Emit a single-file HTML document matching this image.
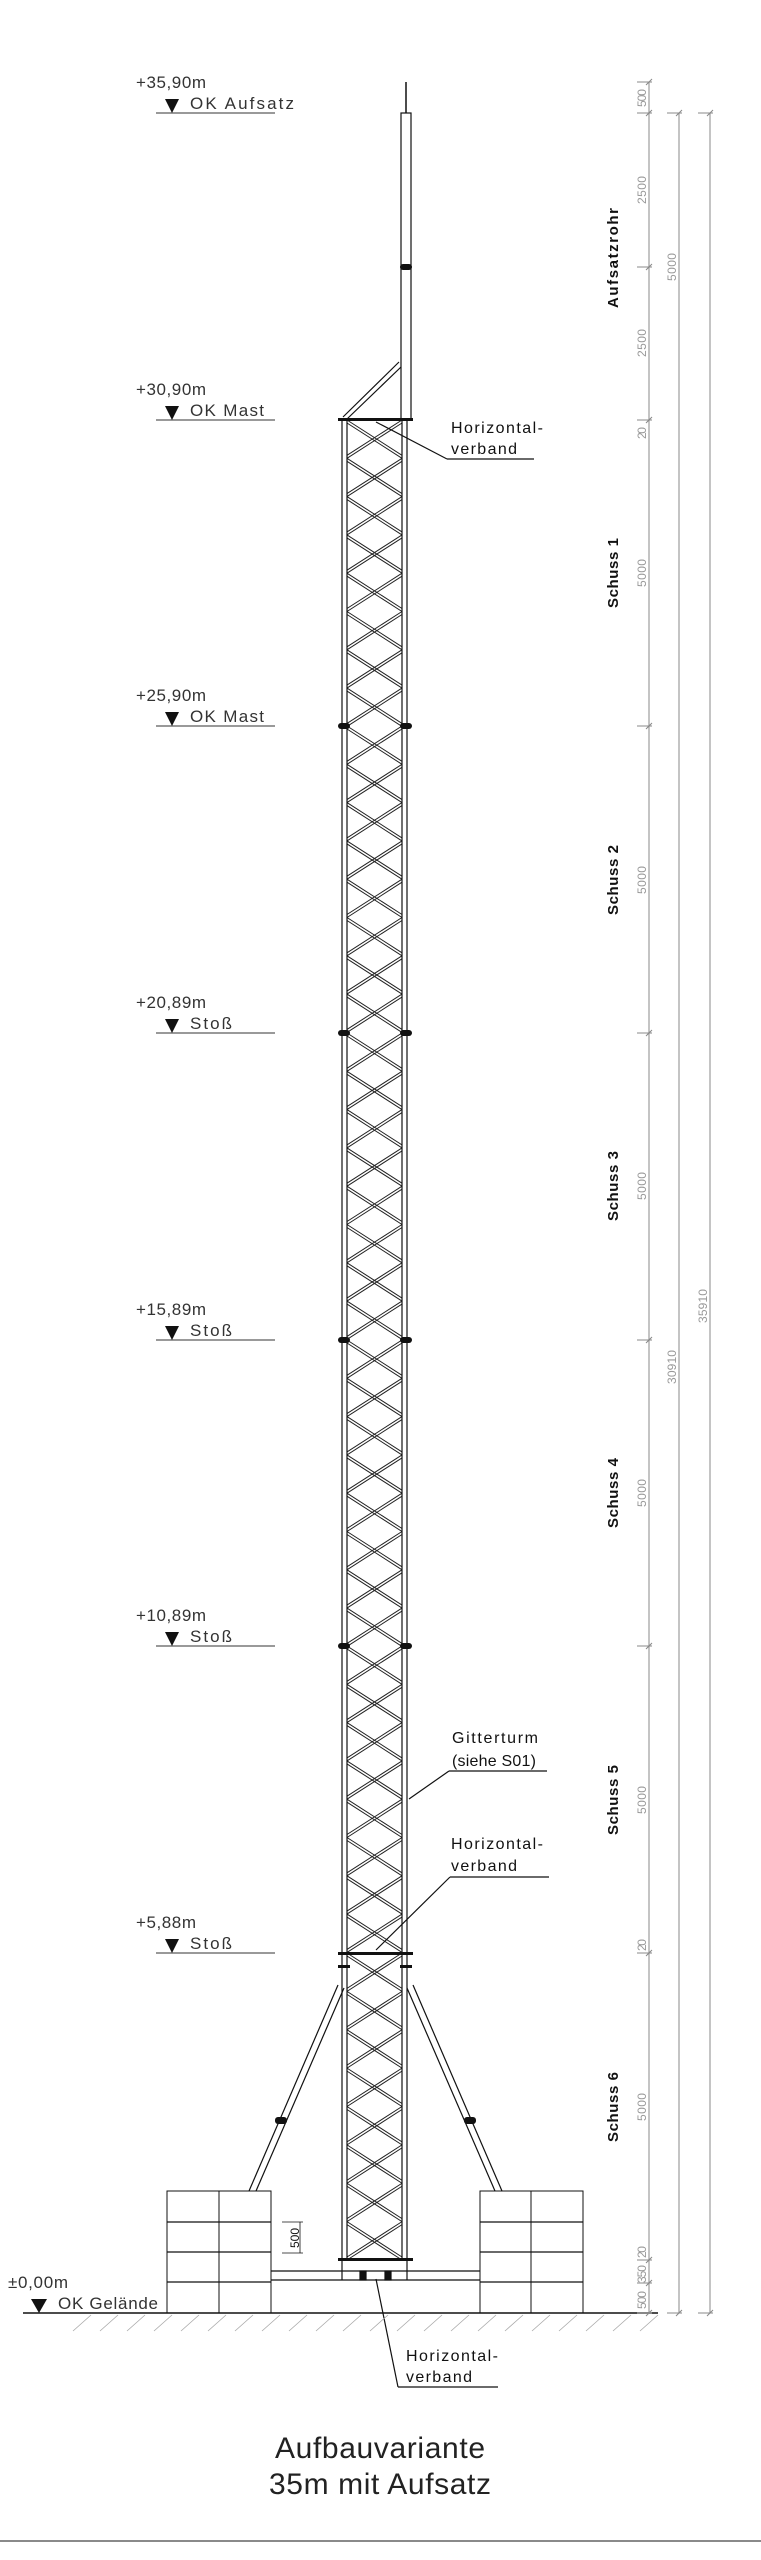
<!DOCTYPE html>
<html><head><meta charset="utf-8"><style>
html,body{margin:0;padding:0;background:#fff}
svg{display:block}
text{font-family:"Liberation Sans Narrow","Liberation Sans",sans-serif}
</style></head><body>
<svg id="s" width="761" height="2560" viewBox="0 0 761 2560" xmlns="http://www.w3.org/2000/svg">
<g id="lat" stroke="#222" stroke-width="1" fill="none"></g>
<g stroke="#111" fill="none" stroke-width="1.2">
<line x1="342" y1="420" x2="342" y2="2280"/><line x1="347" y1="420" x2="347" y2="2260"/>
<line x1="402" y1="420" x2="402" y2="2260"/><line x1="407" y1="420" x2="407" y2="2280"/>
<rect x="401" y="113" width="10" height="307"/>
<line x1="406" y1="82" x2="406" y2="113" stroke-width="1.5"/>
<line x1="343" y1="417" x2="399" y2="362"/><line x1="347" y1="419" x2="401" y2="367"/>
<rect x="338" y="418" width="75" height="3" fill="#111" stroke="none"/>
<line x1="338" y1="1985" x2="249" y2="2191"/><line x1="344" y1="1988" x2="256" y2="2191"/>
<line x1="413" y1="1985" x2="502" y2="2191"/><line x1="407" y1="1988" x2="495" y2="2191"/>
<rect x="338" y="1952" width="75" height="3" fill="#111" stroke="none"/>
<rect x="338" y="2258" width="75" height="3" fill="#111" stroke="none"/>
<line x1="271" y1="2271" x2="480" y2="2271"/><line x1="271" y1="2280" x2="480" y2="2280"/>
<rect x="360" y="2271" width="6" height="9" fill="#111"/><rect x="385" y="2271" width="6" height="9" fill="#111"/>
<rect x="167" y="2191" width="104" height="122" stroke-width="1"/>
<line x1="219" y1="2191" x2="219" y2="2313" stroke-width="1"/>
<line x1="167" y1="2222" x2="271" y2="2222"/><line x1="167" y1="2252" x2="271" y2="2252"/><line x1="167" y1="2282" x2="271" y2="2282"/>
<rect x="480" y="2191" width="103" height="122" stroke-width="1"/>
<line x1="531" y1="2191" x2="531" y2="2313" stroke-width="1"/>
<line x1="480" y1="2222" x2="583" y2="2222"/><line x1="480" y1="2252" x2="583" y2="2252"/><line x1="480" y1="2282" x2="583" y2="2282"/>
<line x1="23" y1="2313" x2="658" y2="2313" stroke-width="1.5"/>
<line x1="376" y1="422" x2="447" y2="459"/><line x1="447" y1="459" x2="534" y2="459"/>
<line x1="409" y1="1799" x2="449" y2="1771"/><line x1="449" y1="1771" x2="547" y2="1771"/>
<line x1="376" y1="1950" x2="450" y2="1877"/><line x1="450" y1="1877" x2="549" y2="1877"/>
<line x1="376" y1="2279" x2="398" y2="2387"/><line x1="398" y1="2387" x2="498" y2="2387"/>
<line x1="300" y1="2222" x2="300" y2="2253" stroke-width="0.8"/>
<line x1="282" y1="2222" x2="303" y2="2222" stroke-width="0.8"/>
<line x1="282" y1="2253" x2="303" y2="2253" stroke-width="0.8"/>
</g>
<g id="dots" fill="#111"></g>
<g id="hatch" stroke="#aaa" stroke-width="0.8"></g>
<g id="dims" stroke="#888" stroke-width="1" fill="none">
<line x1="649" y1="82" x2="649" y2="2313"/>
<line x1="679" y1="113" x2="679" y2="2313"/>
<line x1="710" y1="113" x2="710" y2="2313"/>
</g>
<line x1="0" y1="2541" x2="761" y2="2541" stroke="#444" stroke-width="1.2"/>
<g id="lv" fill="#333" font-size="17"></g>
<g fill="#111" font-size="16">
<text x="451" y="433" textLength="92">Horizontal-</text>
<text x="451" y="454" textLength="66">verband</text>
<text x="452" y="1743" textLength="86">Gitterturm</text>
<text x="452" y="1766" textLength="84">(siehe S01)</text>
<text x="451" y="1849" textLength="92">Horizontal-</text>
<text x="451" y="1871" textLength="66">verband</text>
<text x="406" y="2361" textLength="92">Horizontal-</text>
<text x="406" y="2382" textLength="66">verband</text>
<text x="380" y="2458" font-size="30" text-anchor="middle" textLength="210" fill="#222">Aufbauvariante</text>
<text x="380" y="2494" font-size="30" text-anchor="middle" textLength="222" fill="#222">35m mit Aufsatz</text>
<text transform="translate(299,2238) rotate(-90)" font-size="12" text-anchor="middle">500</text>
</g>
<g id="sl" fill="#111" font-size="15" font-weight="bold" font-family="Liberation Sans,sans-serif"></g>
<g id="dl" fill="#999" font-size="12"></g>
<script>
var NS="http://www.w3.org/2000/svg";
function el(p,t,a,txt){var e=document.createElementNS(NS,t);for(var k in a)e.setAttribute(k,a[k]);if(txt)e.textContent=txt;document.getElementById(p).appendChild(e);return e;}
var secs=[420,726,1033,1340,1646,1953];
secs.forEach(function(y0){var h=(y0==1953?307:306.4)/8;
for(var i=0;i<8;i++){var y=y0+i*h,yb=y0+(i+1)*h-3;
el("lat","line",{x1:347,y1:y,x2:402,y2:yb});el("lat","line",{x1:347,y1:y+3,x2:402,y2:yb+3});
el("lat","line",{x1:402,y1:y,x2:347,y2:yb});el("lat","line",{x1:402,y1:y+3,x2:347,y2:yb+3});}
});
[726,1033,1340,1646].forEach(function(y){el("dots","rect",{x:338,y:y-3,width:12,height:6,rx:3});el("dots","rect",{x:400,y:y-3,width:12,height:6,rx:3});});
el("dots","rect",{x:400,y:264,width:12,height:6,rx:3});
el("dots","rect",{x:275,y:2117,width:12,height:7,rx:3});el("dots","rect",{x:464,y:2117,width:12,height:7,rx:3});
el("dots","rect",{x:338,y:1965,width:12,height:3});el("dots","rect",{x:400,y:1965,width:12,height:3});
for(var x=73;x<655;x+=27)el("hatch","line",{x1:x,y1:2331,x2:x+18,y2:2315});
[82,113,267,420,726,1033,1340,1646,1953,2260,2283,2313].forEach(function(y){el("dims","line",{x1:637,y1:y,x2:652,y2:y});el("dims","line",{x1:646,y1:y+3,x2:652,y2:y-3});});
[113,2313].forEach(function(y){[679,710].forEach(function(x){el("dims","line",{x1:x-12,y1:y,x2:x+3,y2:y});el("dims","line",{x1:x-3,y1:y+3,x2:x+3,y2:y-3});});});
function vt(g,x,y,s,len){var t=el(g,"text",{transform:"translate("+x+","+y+") rotate(-90)","text-anchor":"middle"},s);if(len)t.setAttribute("textLength",len);}
vt("dl",646,98,"500",18);vt("dl",646,190,"2500",28);vt("dl",646,343,"2500",28);vt("dl",646,433,"20",12);
[573,880,1186,1493,1800,2107].forEach(function(y){vt("dl",646,y,"5000",28);});
vt("dl",646,1953-8,"20",12);vt("dl",646,2252,"20",12);vt("dl",646,2274,"350",18);vt("dl",646,2300,"500",18);
vt("dl",676,267,"5000",28);vt("dl",676,1367,"30910",34);vt("dl",707,1306,"35910",34);
vt("sl",618,258,"Aufsatzrohr",100);
["Schuss 1","Schuss 2","Schuss 3","Schuss 4","Schuss 5","Schuss 6"].forEach(function(s,i){vt("sl",618,[573,880,1186,1493,1800,2107][i],s,70);});
var L=[[113,"+35,90m","OK Aufsatz",104],[420,"+30,90m","OK Mast",74],[726,"+25,90m","OK Mast",74],[1033,"+20,89m","Stoß",42],[1340,"+15,89m","Stoß",42],[1646,"+10,89m","Stoß",42],[1953,"+5,88m","Stoß",42]];
L.forEach(function(l){var y=l[0];
el("lv","text",{x:136,y:y-25,textLength:l[1].length>6?70:60},l[1]);
el("lv","text",{x:190,y:y-4,textLength:l[3]},l[2]);
el("lv","polygon",{points:"165,"+(y-14)+" 179,"+(y-14)+" 172,"+y,fill:"#111"});
el("lv","line",{x1:156,y1:y,x2:275,y2:y,stroke:"#333","stroke-width":1});});
el("lv","text",{x:8,y:2288,textLength:60},"±0,00m");
el("lv","text",{x:58,y:2309,textLength:100},"OK Gelände");
el("lv","polygon",{points:"31,2299 47,2299 39,2313",fill:"#111"});
</script>
</svg>
</body></html>
